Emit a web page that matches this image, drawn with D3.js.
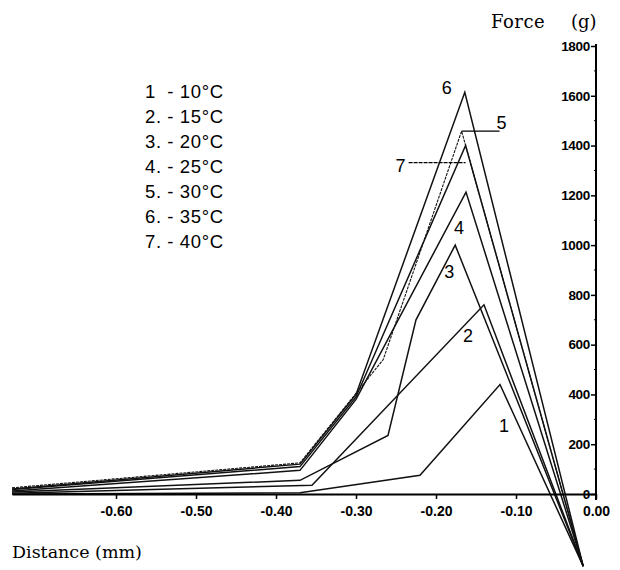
<!DOCTYPE html>
<html>
<head>
  <title>Force vs Distance</title>
  <script src="https://d3js.org/d3.v7.min.js"></script>
  <style>
    body { margin: 0; background: #fff; }
  </style>
</head>
<body>
  <div id="chart"></div>
  <script>
    // Curve ids and the temperatures they stand for
    const curveIds = ["1", "2", "3", "4", "5", "6", "7"];
    const legendLabels = ["1 \u00a0- 10°C", "2. - 15°C", "3. - 20°C", "4. - 25°C", "5. - 30°C", "6. - 35°C", "7. - 40°C"];

    // [distance (mm), force (g)]
    const curve1 = [[-0.73, 0], [-0.37, 5], [-0.22, 75], [-0.12, 440], [-0.016, -290]];
    const curve2 = [[-0.73, 3], [-0.355, 35], [-0.14, 760], [-0.016, -290]];
    const curve3 = [[-0.73, 8], [-0.37, 55], [-0.26, 235], [-0.225, 700], [-0.176, 1000], [-0.016, -290]];
    const curve4 = [[-0.73, 12], [-0.37, 95], [-0.30, 380], [-0.1625, 1213], [-0.016, -290]];
    const curve5 = [[-0.73, 25], [-0.37, 125], [-0.266, 540], [-0.168, 1458], [-0.016, -290]];
    const curve6 = [[-0.73, 20], [-0.37, 120], [-0.30, 400], [-0.164, 1614], [-0.016, -290]];
    const curve7 = [[-0.73, 18], [-0.37, 110], [-0.30, 390], [-0.163, 1400], [-0.016, -290]];
    const curves = [curve1, curve2, curve3, curve4, curve5, curve6, curve7];

    const yTicks = [0, 200, 400, 600, 800, 1000, 1200, 1400, 1600, 1800];
    const xTicks = [-0.6, -0.5, -0.4, -0.3, -0.2, -0.1, 0];

    const svg = d3.select("#chart")
      .append("svg")
      .attr("width", 620)
      .attr("height", 570);

    const x = d3.scaleLinear().domain([-0.73, 0]).range([12, 596]);
    const y = d3.scaleLinear().domain([0, 1800]).range([494, 46]);

    // lines
    const line = d3.line()
      .x(d => x(d[0]))
      .y(d => y(d[1]));

    svg.selectAll(".curve")
      .data(curves)
      .enter()
      .append("path")
      .attr("class", "curve")
      .attr("fill", "none")
      .attr("stroke", "#111")
      .attr("stroke-width", (d, i) => i === 4 ? 1.1 : 1.5)
      .attr("stroke-dasharray", (d, i) => i === 4 ? "3,1" : null)
      .attr("d", line);

    // y axis on the right edge of the plot
    const yAxis = d3.axisLeft(y)
      .tickValues(yTicks)
      .tickSize(5)
      .tickSizeOuter(0)
      .tickPadding(1)
      .tickFormat(d3.format("d"));

    const gy = svg.append("g")
      .attr("transform", `translate(${x(0)},0)`)
      .call(yAxis);
    gy.select(".domain").attr("stroke-width", 2).attr("d", "M0,44V500");
    gy.selectAll(".tick line").attr("stroke-width", 1.5);
    gy.selectAll("text")
      .attr("font-family", "Liberation Sans, Arial, sans-serif")
      .attr("font-weight", "bold")
      .attr("font-size", 13.5)
      .attr("letter-spacing", -0.3)
      .attr("fill", "#000");

    // minor ticks on y
    svg.selectAll(".ymin")
      .data(d3.range(100, 1800, 200))
      .enter()
      .append("line")
      .attr("x1", x(0) - 2)
      .attr("x2", x(0))
      .attr("y1", d => y(d))
      .attr("y2", d => y(d))
      .attr("stroke", "#000");

    // x axis
    const xAxis = d3.axisBottom(x)
      .tickValues(xTicks)
      .tickSize(5)
      .tickSizeOuter(0)
      .tickPadding(7)
      .tickFormat(d => d.toFixed(2));

    const gx = svg.append("g")
      .attr("transform", `translate(0,${y(0)})`)
      .call(xAxis);
    gx.select(".domain").attr("stroke-width", 1.8);
    gx.selectAll(".tick line").attr("stroke-width", 1.5);
    gx.selectAll("text")
      .attr("font-family", "Liberation Sans, Arial, sans-serif")
      .attr("font-weight", "bold")
      .attr("font-size", 14)
      .attr("fill", "#000");

    // axis titles
    svg.append("text")
      .attr("x", 491)
      .attr("y", 28)
      .attr("font-family", "DejaVu Serif, serif")
      .attr("font-size", 18)
      .attr("letter-spacing", 0.5)
      .text("Force");
    svg.append("text")
      .attr("x", 571)
      .attr("y", 28)
      .attr("font-family", "DejaVu Serif, serif")
      .attr("font-size", 18)
      .text("(g)");
    svg.append("text")
      .attr("x", 12)
      .attr("y", 558)
      .attr("font-family", "DejaVu Serif, serif")
      .attr("font-size", 17.5)
      .text("Distance (mm)");

    // legend
    svg.selectAll(".legend")
      .data(legendLabels)
      .enter()
      .append("text")
      .attr("class", "legend")
      .attr("x", 145)
      .attr("y", (d, i) => 98 + i * 25)
      .attr("font-family", "Liberation Sans, Arial, sans-serif")
      .attr("font-size", 18.5)
      .attr("letter-spacing", 0.6)
      .text(d => d);

    // curve labels, offset in pixels from each curve's peak
    const labelOffsets = [[4, 48], [-16, 37], [-6, 33], [-7, 42], [40, -2], [-18, 2], [-65, 26]];
    curves.forEach((c, i) => {
      const peak = c.reduce((a, b) => b[1] > a[1] ? b : a);
      svg.append("text")
        .attr("x", x(peak[0]) + labelOffsets[i][0])
        .attr("y", y(peak[1]) + labelOffsets[i][1])
        .attr("text-anchor", "middle")
        .attr("font-family", "Liberation Sans, Arial, sans-serif")
        .attr("font-size", 18)
        .text(curveIds[i]);
    });

    // leader lines for labels 5 and 7
    const p5 = curve5[3], p7 = curve7[3];
    svg.append("line")
      .attr("x1", x(p5[0])).attr("x2", x(p5[0]) + 38)
      .attr("y1", y(p5[1])).attr("y2", y(p5[1]))
      .attr("stroke", "#000").attr("stroke-width", 1.4);
    svg.append("line")
      .attr("x1", x(p7[0]) - 57).attr("x2", x(p7[0]))
      .attr("y1", y(p7[1]) + 17).attr("y2", y(p7[1]) + 17)
      .attr("stroke", "#000").attr("stroke-width", 1.2)
      .attr("stroke-dasharray", "4,1");
  </script>
</body>
</html>
